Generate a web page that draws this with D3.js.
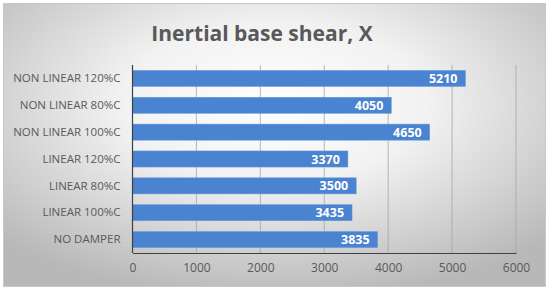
<!DOCTYPE html>
<html>
<head>
<meta charset="utf-8">
<script src="https://cdn.jsdelivr.net/npm/d3@7"></script>
<style>
  body { margin: 0; background: #fff; }
  svg { display: block; }
</style>
</head>
<body>
<svg id="chart" width="550" height="290"></svg>
<script>
// categories from top to bottom, as in the picture
let categories = ["NON LINEAR 120%C", "NON LINEAR 80%C", "NON LINEAR 100%C",
                  "LINEAR 120%C", "LINEAR 80%C", "LINEAR 100%C", "NO DAMPER"];
let values = [5210, 4050, 4650, 3370, 3500, 3435, 3835];
let xTicks = [0, 1000, 2000, 3000, 4000, 5000, 6000];

let svg = d3.select("#chart"),
    width = 550,
    height = 290;

let margin = {top: 65, right: 34, bottom: 37, left: 132.5};

// fondo con degradado radial
let defs = svg.append("defs");
let grad = defs.append("radialGradient")
    .attr("id", "bg")
    .attr("cx", "50%").attr("cy", "35%").attr("r", "70%");
grad.append("stop").attr("offset", "0%").attr("stop-color", "#ffffff");
grad.append("stop").attr("offset", "40%").attr("stop-color", "#f2f2f2");
grad.append("stop").attr("offset", "100%").attr("stop-color", "#b8b8b8");

svg.append("rect")
    .attr("x", 3.5).attr("y", 3.5)
    .attr("width", 542).attr("height", 283)
    .attr("fill", "url(#bg)")
    .attr("stroke", "#c9c9c9")
    .attr("stroke-width", 1);

svg.append("text")
    .attr("x", 262)
    .attr("y", 41)
    .attr("text-anchor", "middle")
    .attr("font-family", "Open Sans, sans-serif")
    .attr("font-weight", "bold")
    .attr("font-size", "21px")
    .attr("fill", "#595959")
    .text("Inertial base shear, X");

let x = d3.scaleLinear()
    .domain([0, 6000])
    .range([margin.left, width - margin.right]);

let y = d3.scaleBand()
    .domain(categories)
    .range([margin.top, height - margin.bottom])
    .paddingInner(0.4)
    .paddingOuter(0.2);

// rejilla vertical
svg.append("g")
    .selectAll("line")
    .data(xTicks.slice(1))
    .enter()
    .append("line")
    .attr("x1", d => x(d)).attr("x2", d => x(d))
    .attr("y1", margin.top).attr("y2", height - margin.bottom)
    .attr("stroke", "#a6a6a6")
    .attr("stroke-width", 0.8);

// barras
svg.append("g")
    .selectAll("rect")
    .data(values)
    .enter()
    .append("rect")
    .attr("x", x(0))
    .attr("y", (d, i) => y(categories[i]))
    .attr("width", d => x(d) - x(0))
    .attr("height", y.bandwidth())
    .attr("fill", "#4a83cf")
    .attr("stroke", "#6a9ee0")
    .attr("stroke-width", 0.5);

// etiquetas de valor
svg.append("g")
    .selectAll("text")
    .data(values)
    .enter()
    .append("text")
    .attr("x", d => x(d) - 8)
    .attr("y", (d, i) => y(categories[i]) + y.bandwidth() / 2)
    .attr("dy", "0.36em")
    .attr("text-anchor", "end")
    .attr("font-family", "Open Sans, sans-serif")
    .attr("font-weight", "bold")
    .attr("font-size", "12.5px")
    .attr("fill", "#ffffff")
    .text(d => d);

// ejes
let yAxis = svg.append("g")
    .attr("transform", "translate(" + x(0) + ",0)")
    .call(d3.axisLeft(y).tickSize(0).tickPadding(12));
yAxis.select(".domain").attr("stroke", "#404040").attr("stroke-width", 1.2)
    .attr("d", "M0," + margin.top + "V" + (height - margin.bottom));
yAxis.selectAll("text")
    .attr("font-family", "Open Sans, sans-serif")
    .attr("font-size", "11.5px")
    .attr("fill", "#595959");

let xAxis = svg.append("g")
    .attr("transform", "translate(0," + (height - margin.bottom) + ")")
    .call(d3.axisBottom(x).tickValues(xTicks).tickFormat(d3.format("d")).tickSize(0).tickPadding(10));
xAxis.select(".domain").attr("stroke", "#404040").attr("stroke-width", 1.2);
xAxis.selectAll("text")
    .attr("font-family", "Open Sans, sans-serif")
    .attr("font-size", "12px")
    .attr("fill", "#595959");
</script>
</body>
</html>
